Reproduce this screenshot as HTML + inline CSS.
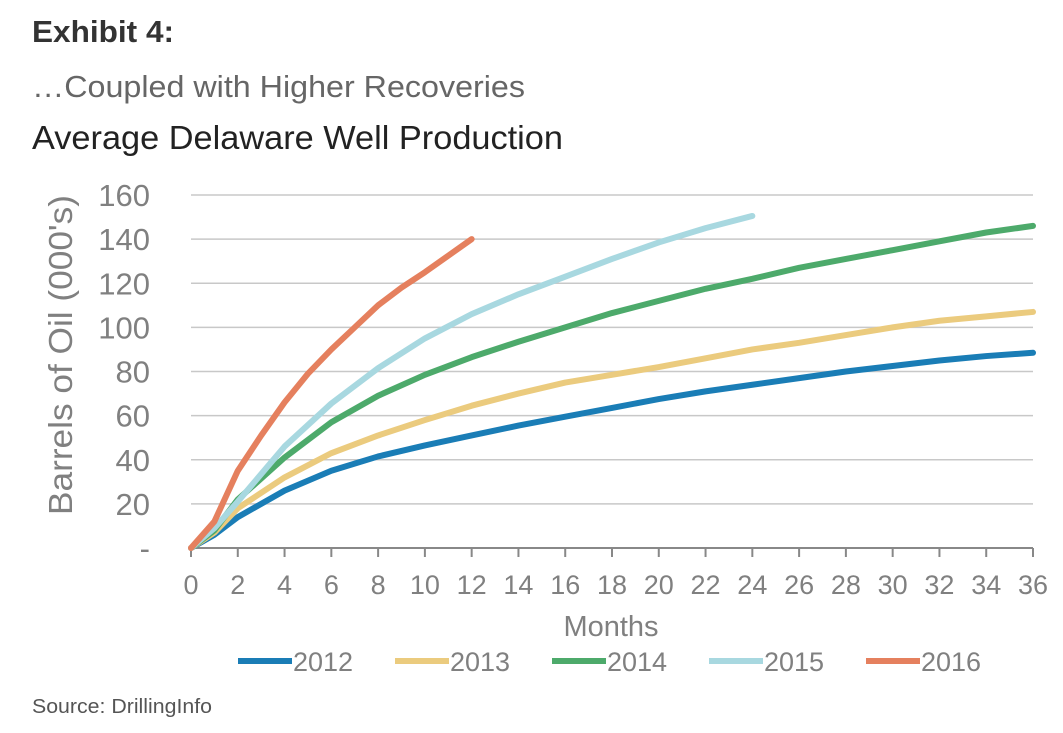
<!DOCTYPE html>
<html><head><meta charset="utf-8"><style>
body{margin:0;background:#fff;width:1063px;height:733px;overflow:hidden;font-family:"Liberation Sans",sans-serif}
svg{position:absolute;left:0;top:0}
</style></head><body>
<svg width="1063" height="733" id="c">
<text x="32" y="42" font-size="31" font-weight="bold" fill="#333" textLength="142" lengthAdjust="spacingAndGlyphs">Exhibit 4:</text>
<text x="32" y="97" font-size="31" fill="#666" textLength="493" lengthAdjust="spacingAndGlyphs">…Coupled with Higher Recoveries</text>
<text x="32" y="149" font-size="33" fill="#222" textLength="531" lengthAdjust="spacingAndGlyphs">Average Delaware Well Production</text>
<text x="72" y="355" font-size="33" fill="#808080" text-anchor="middle" transform="rotate(-90 72 355)" textLength="320" lengthAdjust="spacingAndGlyphs">Barrels of Oil (000's)</text>
<text x="611" y="636" font-size="29" fill="#808080" text-anchor="middle">Months</text>
<text x="32" y="713" font-size="20" fill="#555" textLength="180" lengthAdjust="spacingAndGlyphs">Source: DrillingInfo</text>
<g id="grid"></g><g id="axes"></g><g id="series"></g><g id="legend"></g>
</svg>
<script>
const yTicks=[0,20,40,60,80,100,120,140,160];
const yTickLabels=['-','20','40','60','80','100','120','140','160'];
const xTicks=[0,2,4,6,8,10,12,14,16,18,20,22,24,26,28,30,32,34,36];
const seriesNames=['2012','2013','2014','2015','2016'];
const months36=[0,1,2,4,6,8,10,12,14,16,18,20,22,24,26,28,30,32,34,36];
const months24=[0,1,2,4,6,8,10,12,14,16,18,20,22,24];
const months12=[0,1,2,3,4,5,6,7,8,9,10,11,12];
const v2012=[0,6,14,26,35,41.5,46.5,51,55.5,59.5,63.5,67.5,71,74,77,80,82.5,85,87,88.5];
const v2013=[0,7,18,32,43,51,58,64.5,70,75,78.5,82,86,90,93,96.5,100,103,105,107];
const v2014=[0,8,22,41,57,69,78.5,86.5,93.5,100,106.5,112,117.5,122,127,131,135,139,143,146];
const v2015=[0,9,21,46,65.5,81.5,95,106,115,123,131,138.5,145,150.5];
const v2016=[0,12,35,51,66,79,90,100,110,118,125,132.5,140];
const colors=['#1a7db6','#ebcb7e','#4daa6b','#a8d8e0','#e5805e'];
const X=m=>191+m*(1033-191)/36, Y=v=>548-v*(548-195)/160;
const NS='http://www.w3.org/2000/svg';
function mk(t,p,a){const e=document.createElementNS(NS,t);for(const k in a)e.setAttribute(k,a[k]);p.appendChild(e);return e;}
const grid=document.getElementById('grid'),axes=document.getElementById('axes'),ser=document.getElementById('series'),leg=document.getElementById('legend');
yTicks.forEach((v,i)=>{
 if(v>0){const l=mk('line',grid,{x1:191,x2:1033,y1:Y(v),y2:Y(v),stroke:'#c8c8c8','stroke-width':1.5});
 
 }
 const t=mk('text',axes,{x:150,y:Y(v)+11,'font-size':31,fill:'#808080','text-anchor':'end'});t.textContent=yTickLabels[i];
 
 
});
const ax=mk('line',axes,{x1:191,x2:1033,y1:548,y2:548,stroke:'#888','stroke-width':2});


xTicks.forEach(m=>{
 const tk=mk('line',axes,{x1:X(m),x2:X(m),y1:548,y2:557,stroke:'#888','stroke-width':2});
 
 
 const t=mk('text',axes,{x:X(m),y:594,'font-size':27,fill:'#808080','text-anchor':'middle'});t.textContent=m;
 
 
});
const data=[[months36,v2012],[months36,v2013],[months36,v2014],[months24,v2015],[months12,v2016]];
data.forEach((d,i)=>{
 const pts=d[0].map((m,j)=>X(m)+','+Y(d[1][j])).join(' ');
 const p=mk('polyline',ser,{points:pts,fill:'none',stroke:colors[i],'stroke-width':6,'stroke-linecap':'round','stroke-linejoin':'round'});
 
 
});
const lx=[238,395,552,709,866];
seriesNames.forEach((n,i)=>{
 const g=mk('g',leg,{});
 
 
 mk('line',g,{x1:lx[i],x2:lx[i]+54,y1:661,y2:661,stroke:colors[i],'stroke-width':6});
 const t=mk('text',g,{x:lx[i]+55,y:671,'font-size':27,fill:'#808080'});t.textContent=n;
});
</script>
</body></html>
